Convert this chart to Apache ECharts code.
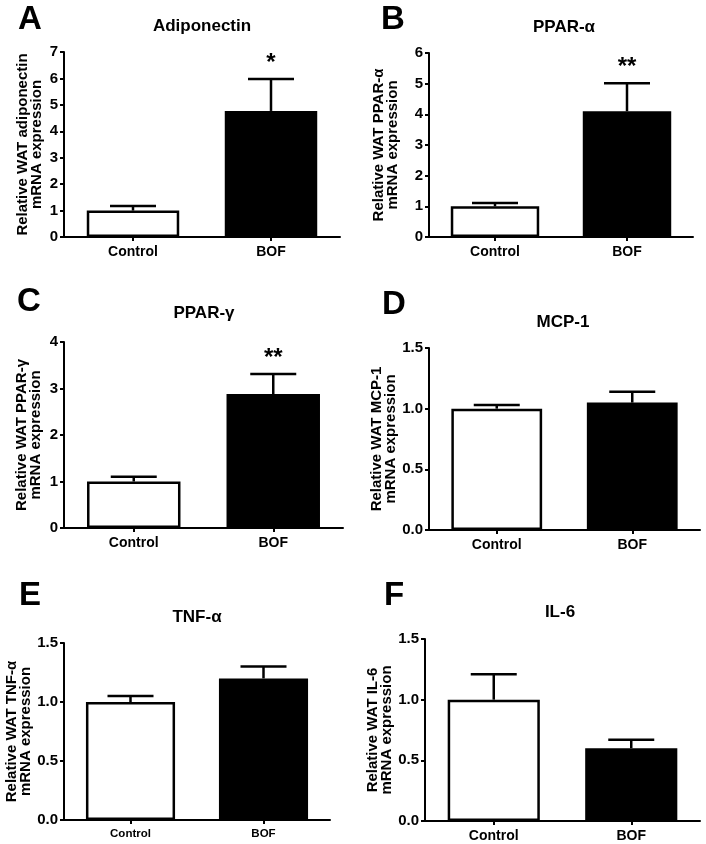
<!DOCTYPE html>
<html><head><meta charset="utf-8">
<script src="https://cdn.jsdelivr.net/npm/echarts@6/dist/echarts.min.js"></script>
<style>html,body{margin:0;padding:0;background:#fff}#c{width:706px;height:844px}</style>
</head><body><div id="c"></div>
<script>
// ---- data ----
var categories = ['Control', 'BOF'];
var adiponectinMean = [1.0, 4.77];
var adiponectinSem  = [0.17, 1.21];
var adiponectinSig  = ['', '*'];
var pparAlphaMean = [1.0, 4.1];
var pparAlphaSem  = [0.11, 0.91];
var pparAlphaSig  = ['', '**'];
var pparGammaMean = [1.0, 2.88];
var pparGammaSem  = [0.1, 0.43];
var pparGammaSig  = ['', '**'];
var mcp1Mean = [1.0, 1.05];
var mcp1Sem  = [0.03, 0.09];
var mcp1Sig  = ['', ''];
var tnfaMean = [1.0, 1.2];
var tnfaSem  = [0.05, 0.10];
var tnfaSig  = ['', ''];
var il6Mean = [1.0, 0.6];
var il6Sem  = [0.21, 0.07];
var il6Sig  = ['', ''];
var yTicksA = {min: 0, max: 7, interval: 1};
var yTicksB = {min: 0, max: 6, interval: 1};
var yTicksC = {min: 0, max: 4, interval: 1};
var yTicksSmall = {min: 0, max: 1.5, interval: 0.5};

var FONT = '"Liberation Sans", Arial, sans-serif';

var panels = [
  {letter:'A', title:'Adiponectin', yname:'Relative WAT adiponectin\nmRNA expression', mean:adiponectinMean, sem:adiponectinSem, sig:adiponectinSig, ticks:yTicksA, dec:0,
   grid:{left:64, top:52, width:276, height:185}, nameGap:20, letterPos:[30,20], titlePos:[202,26], xFont:14},
  {letter:'B', title:'PPAR-α', yname:'Relative WAT PPAR-α\nmRNA expression', mean:pparAlphaMean, sem:pparAlphaSem, sig:pparAlphaSig, ticks:yTicksB, dec:0,
   grid:{left:429, top:53, width:264, height:184}, nameGap:29, letterPos:[393,20], titlePos:[564,27], xFont:14},
  {letter:'C', title:'PPAR-γ', yname:'Relative WAT PPAR-γ\nmRNA expression', mean:pparGammaMean, sem:pparGammaSem, sig:pparGammaSig, ticks:yTicksC, dec:0,
   grid:{left:64, top:342, width:279, height:186}, nameGap:21, letterPos:[29,302], titlePos:[204,313], xFont:14},
  {letter:'D', title:'MCP-1', yname:'Relative WAT MCP-1\nmRNA expression', mean:mcp1Mean, sem:mcp1Sem, sig:mcp1Sig, ticks:yTicksSmall, dec:1,
   grid:{left:429, top:348, width:271, height:182}, nameGap:31, letterPos:[394,305], titlePos:[563,322], xFont:14},
  {letter:'E', title:'TNF-α', yname:'Relative WAT TNF-α\nmRNA expression', mean:tnfaMean, sem:tnfaSem, sig:tnfaSig, ticks:yTicksSmall, dec:1,
   grid:{left:64, top:643, width:266, height:177}, nameGap:31, letterPos:[30,596], titlePos:[197,617], xFont:11.5},
  {letter:'F', title:'IL-6', yname:'Relative WAT IL-6\nmRNA expression', mean:il6Mean, sem:il6Sem, sig:il6Sig, ticks:yTicksSmall, dec:1,
   grid:{left:425, top:639, width:275, height:182}, nameGap:30, letterPos:[394,596], titlePos:[560,612], xFont:14}
];

var grids = [], xAxes = [], yAxes = [], series = [], graphics = [];
panels.forEach(function(p, k){
  grids.push(p.grid);
  xAxes.push({
    type:'category', gridIndex:k, data:categories,
    axisLine:{lineStyle:{color:'#000', width:2}},
    axisTick:{show:true, alignWithLabel:true, length:4, lineStyle:{color:'#000', width:2}},
    axisLabel:{color:'#000', fontWeight:'bold', fontFamily:FONT, fontSize:p.xFont, margin:8}
  });
  yAxes.push({
    type:'value', gridIndex:k, min:p.ticks.min, max:p.ticks.max, interval:p.ticks.interval,
    name:p.yname, nameLocation:'middle', nameRotate:90, nameGap:p.nameGap,
    nameTextStyle:{color:'#000', fontWeight:'bold', fontFamily:FONT, fontSize:15, lineHeight:14},
    splitLine:{show:false},
    axisLine:{show:true, lineStyle:{color:'#000', width:2}},
    axisTick:{show:true, length:4, lineStyle:{color:'#000', width:2}},
    axisLabel:{color:'#000', fontWeight:'bold', fontFamily:FONT, fontSize:15, margin:6,
      formatter:(function(d){return function(v){return v.toFixed(d);};})(p.dec)}
  });
  series.push({
    type:'bar', xAxisIndex:k, yAxisIndex:k, barWidth:'67%', z:2,
    data:p.mean.map(function(v, i){
      return {value:v, itemStyle:{color: i===0 ? '#ffffff' : '#000000', borderColor:'#000', borderWidth:2.5}};
    })
  });
  var sig = p.sig;
  series.push({
    type:'custom', xAxisIndex:k, yAxisIndex:k, z:3,
    encode:{x:0, y:2},
    data:p.mean.map(function(v, i){ return [i, v, v + p.sem[i]]; }),
    renderItem:function(params, api){
      var i = params.dataIndex;
      var p0 = api.coord([api.value(0), api.value(1)]);
      var p1 = api.coord([api.value(0), api.value(2)]);
      var ch = [
        {type:'line', shape:{x1:p0[0], y1:p0[1], x2:p1[0], y2:p1[1]}, style:{stroke:'#000', lineWidth:2.5}},
        {type:'line', shape:{x1:p1[0]-23, y1:p1[1], x2:p1[0]+23, y2:p1[1]}, style:{stroke:'#000', lineWidth:2.5}}
      ];
      if (sig[i]) {
        ch.push({type:'text', x:p1[0], y:p1[1]-4,
          style:{text:sig[i], align:'center', verticalAlign:'bottom', fill:'#000',
                 font:'bold 24px ' + FONT}});
      }
      return {type:'group', children:ch};
    }
  });
  graphics.push({type:'text', x:p.letterPos[0], y:p.letterPos[1],
    style:{text:p.letter, align:'center', verticalAlign:'middle', fill:'#000', font:'bold 33px ' + FONT}});
  graphics.push({type:'text', x:p.titlePos[0], y:p.titlePos[1],
    style:{text:p.title, align:'center', verticalAlign:'middle', fill:'#000', font:'bold 17px ' + FONT}});
});

var chart = echarts.init(document.getElementById('c'), null, {renderer:'canvas'});
chart.setOption({
  animation:false,
  backgroundColor:'#fff',
  grid:grids, xAxis:xAxes, yAxis:yAxes, series:series, graphic:graphics
});
</script></body></html>
